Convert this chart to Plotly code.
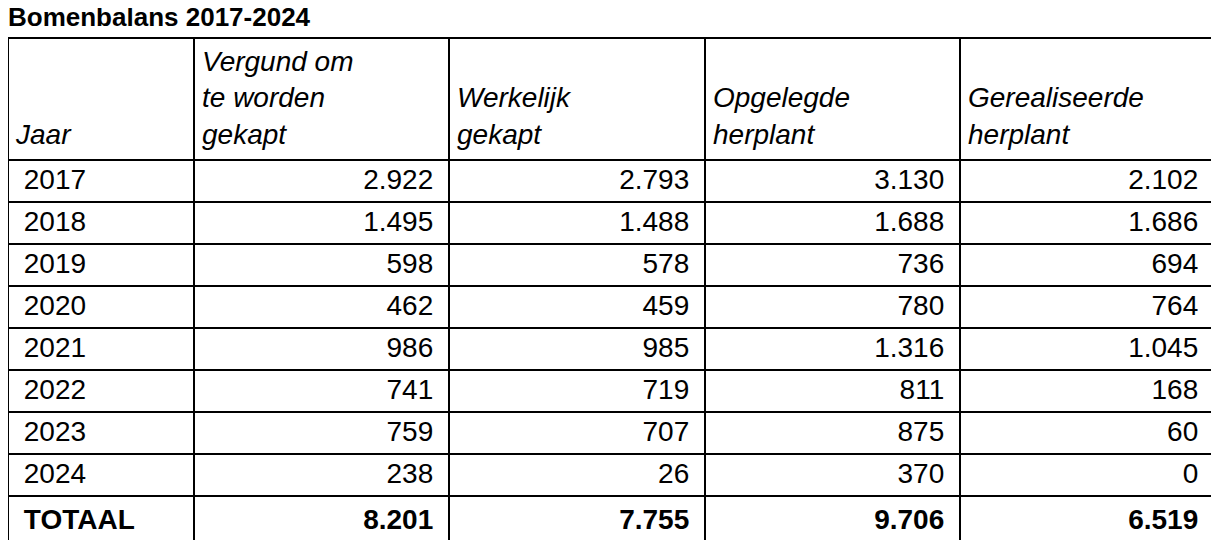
import plotly.graph_objects as go

years = ["2017", "2018", "2019", "2020", "2021", "2022", "2023", "2024"]
vergund = [2922, 1495, 598, 462, 986, 741, 759, 238]
werkelijk = [2793, 1488, 578, 459, 985, 719, 707, 26]
opgelegd = [3130, 1688, 736, 780, 1316, 811, 875, 370]
gerealiseerd = [2102, 1686, 694, 764, 1045, 168, 60, 0]
NB = "\u00a0"
headers = [NB + "<br>" + NB + "<br><i>Jaar</i>", "<i>Vergund om<br>te worden<br>gekapt</i>",
           NB + "<br><i>Werkelijk<br>gekapt</i>", NB + "<br><i>Opgelegde<br>herplant</i>",
           NB + "<br><i>Gerealiseerde<br>herplant</i>"]

def fmt(v):
    return f"{v:,}".replace(",", ".")

def col(vals):
    return [fmt(v) + NB for v in vals] + ["<b>" + fmt(sum(vals)) + "</b>" + NB]

cells = [[NB + y for y in years] + [NB + "<b>TOTAAL</b>"],
         col(vergund), col(werkelijk), col(opgelegd), col(gerealiseerd)]
headers = [NB + h if i == 0 else h for i, h in enumerate(headers)]

fig = go.Figure(go.Table(
    columnwidth=[186, 255, 256, 255, 254],
    header=dict(values=headers, align="left", height=122,
                line=dict(color="black", width=2), fill_color="white",
                font=dict(family="Liberation Sans, Arial", size=28, color="black")),
    cells=dict(values=cells, align=["left", "right", "right", "right", "right"], height=42,
               line=dict(color="black", width=2), fill_color="white",
               font=dict(family="Liberation Sans, Arial", size=28, color="black")),
))
fig.update_layout(
    width=1206, height=532, paper_bgcolor="white",
    margin=dict(l=0, r=0, t=30, b=0),
    title=dict(text="<b>Bomenbalans 2017-2024</b>", x=0.0, xanchor="left", y=0.983, yanchor="middle",
               font=dict(family="Liberation Sans, Arial", size=26, color="black")),
)
fig.write_html("out.html")
